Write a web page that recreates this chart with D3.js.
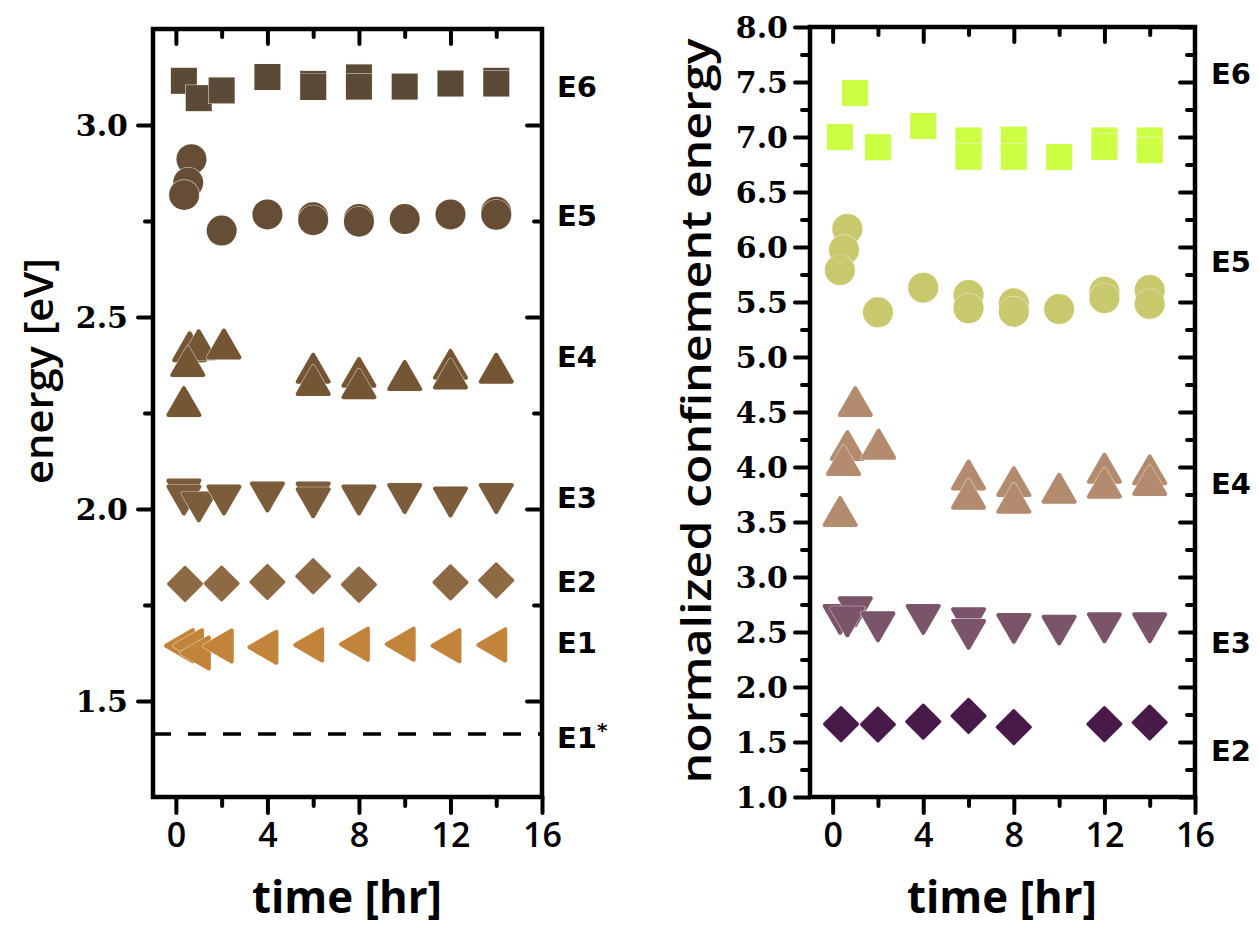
<!DOCTYPE html>
<html><head><meta charset="utf-8">
<script src="https://cdn.jsdelivr.net/npm/d3@7"></script>
<style>body{margin:0;background:#fff}svg{display:block}</style>
</head><body><svg id="c" width="1259" height="930"></svg>
<script>
// ---------------- data ----------------
const xMajorTicks = [0, 4, 8, 12, 16];
const xMinorTicks = [2, 6, 10, 14];
const leftYTicks = [1.5, 2.0, 2.5, 3.0];
const leftYMinor = [1.75, 2.25, 2.75];
const rightYTicks = [1.0,1.5,2.0,2.5,3.0,3.5,4.0,4.5,5.0,5.5,6.0,6.5,7.0,7.5,8.0];
const rightYMinor = [1.25,1.75,2.25,2.75,3.25,3.75,4.25,4.75,5.25,5.75,6.25,6.75,7.25,7.75];

// left panel: energy [eV]
const lE6t = [0.35,1.0,2.0,4,6,6,8,8,10,12,14,14];
const lE6v = [3.115,3.07,3.09,3.125,3.107,3.099,3.124,3.10,3.10,3.108,3.115,3.108];
const lE5t = [0.68,0.54,0.36,2,4,6,6,8,8,10,12,14,14];
const lE5v = [2.911,2.85,2.818,2.725,2.767,2.76,2.752,2.755,2.748,2.755,2.767,2.774,2.766];
const lE4t = [0.6,1.0,0.52,0.35,2.1,6,6,8,8,10,12,12,14];
const lE4v = [2.411,2.416,2.372,2.268,2.418,2.355,2.323,2.344,2.314,2.336,2.365,2.340,2.355];
const lE3t = [0.35,0.35,1.0,2.1,4,6,6,8,10,12,14];
const lE3v = [2.051,2.035,2.017,2.035,2.043,2.043,2.028,2.035,2.039,2.030,2.039];
const lE2t = [0.4,2,4,6,8,12,14];
const lE2v = [1.805,1.806,1.81,1.825,1.803,1.809,1.814];
const lE1t = [0.35,0.75,1.05,2.05,4,6,8,10,12,14];
const lE1v = [1.644,1.644,1.625,1.643,1.64,1.646,1.648,1.648,1.644,1.646];
const bulkE1 = 1.414;
const leftLabels = ["E6","E5","E4","E3","E2","E1","E1"];
const leftLabelPos = [3.10,2.763,2.396,2.029,1.81,1.651,1.406];

// right panel: normalized confinement energy
const rE6t = [0.32,0.99,2,4,6,6,8,8,10,12,12,14,14];
const rE6v = [7.0,7.40,6.907,7.1,6.968,6.82,6.975,6.82,6.818,6.968,6.91,6.968,6.88];
const rE5t = [0.65,0.5,0.32,2,4,6,6,8,8,10,12,12,14,14];
const rE5v = [6.164,5.973,5.79,5.406,5.63,5.564,5.443,5.488,5.412,5.436,5.594,5.534,5.609,5.482];
const rE4t = [1.0,0.65,0.48,2.03,0.33,6,6,8,8,10,12,12,14,14];
const rE4v = [4.554,4.154,4.017,4.166,3.554,3.887,3.712,3.826,3.675,3.766,3.948,3.812,3.933,3.835];
const rE3t = [0.33,1.0,0.65,2,4,6,6,8,10,12,14];
const rE3v = [2.655,2.725,2.634,2.588,2.655,2.625,2.519,2.573,2.558,2.579,2.579];
const rE2t = [0.37,2,4,6,8,12,14];
const rE2v = [1.662,1.659,1.685,1.738,1.635,1.662,1.677];
const rightLabels = ["E6","E5","E4","E3","E2"];
const rightLabelPos = [7.573,5.864,3.845,2.4,1.418];

// ---------------- drawing ----------------
const svg = d3.select("#c");
const edge = "#f6f1ec";

const shapes = {
  square: {d: "M-13,-13h26v26h-26z", sw: 0},
  circle: {d: d3.symbol(d3.symbolCircle, Math.PI*15*15)(), sw: 0},
  up: {d: "M0,-17.9L15.5,8.95L-15.5,8.95Z", sw: 4},
  down: {d: "M0,17.9L15.5,-8.95L-15.5,-8.95Z", sw: 4},
  left: {d: "M-17.9,0L8.95,-15.5L8.95,15.5Z", sw: 4},
  diamond: {d: "M0,-16.5L16.5,0L0,16.5L-16.5,0Z", sw: 3}
};

function drawSeries(g, xs, ys, ts, vs, shape, color) {
  const sh = shapes[shape];
  ts.forEach((t, i) => {
    const m = g.append("g").attr("transform", `translate(${xs(t)},${ys(vs[i])})`);
    m.append("path").attr("d", sh.d).attr("fill", edge).attr("stroke", edge)
      .attr("stroke-opacity", 0.7)
      .attr("stroke-width", sh.sw + 1.2).attr("stroke-linejoin", "round");
    m.append("path").attr("d", sh.d).attr("fill", color)
      .attr("stroke", sh.sw ? color : "none").attr("stroke-width", sh.sw)
      .attr("stroke-linejoin", "round");
  });
}

function styleTicks(sel) {
  sel.select(".domain").remove();
  sel.selectAll("line").attr("stroke", "#000").attr("stroke-width", 4).attr("stroke-linecap", "round");
}

function panel(x0, x1, y0, y1, yDomain, yMaj, yMin, yFmt, ylabPad) {
  const xs = d3.scaleLinear().domain([-1, 16]).range([x0, x1]);
  const ys = d3.scaleLinear().domain(yDomain).range([y1, y0]);
  const g = svg.append("g");
  const bx = g.append("g").attr("transform", `translate(0,${y1})`)
    .call(d3.axisBottom(xs).tickValues(xMajorTicks).tickSize(16).tickFormat(d3.format("d")));
  styleTicks(bx);
  bx.selectAll("text").attr("y", 50).attr("dy", 0)
    .attr("font-family", "'Open Sans', sans-serif").attr("font-weight", 600)
    .attr("font-size", 34).attr("fill", "#000");
  styleTicks(g.append("g").attr("transform", `translate(0,${y1})`)
    .call(d3.axisBottom(xs).tickValues(xMinorTicks).tickSize(9).tickFormat("")));
  styleTicks(g.append("g").attr("transform", `translate(0,${y0})`)
    .call(d3.axisBottom(xs).tickValues(xMajorTicks.slice(0, -1)).tickSize(15).tickFormat("")));
  styleTicks(g.append("g").attr("transform", `translate(0,${y0})`)
    .call(d3.axisBottom(xs).tickValues(xMinorTicks).tickSize(8).tickFormat("")));
  const ly = g.append("g").attr("transform", `translate(${x0},0)`)
    .call(d3.axisLeft(ys).tickValues(yMaj).tickSize(15).tickPadding(ylabPad).tickFormat(yFmt));
  styleTicks(ly);
  ly.selectAll("text").attr("dy", "0.36em")
    .attr("font-family", "'DejaVu Serif', serif").attr("font-weight", "bold")
    .attr("font-size", 30).attr("fill", "#000");
  styleTicks(g.append("g").attr("transform", `translate(${x0},0)`)
    .call(d3.axisLeft(ys).tickValues(yMin).tickSize(8).tickFormat("")));
  styleTicks(g.append("g").attr("transform", `translate(${x1},0)`)
    .call(d3.axisLeft(ys).tickValues(yMaj).tickSize(15).tickFormat("")));
  styleTicks(g.append("g").attr("transform", `translate(${x1},0)`)
    .call(d3.axisLeft(ys).tickValues(yMin).tickSize(8).tickFormat("")));
  g.append("rect").attr("x", x0).attr("y", y0).attr("width", x1 - x0).attr("height", y1 - y0)
    .attr("fill", "none").attr("stroke", "#000").attr("stroke-width", 4.5);
  return {g, xs, ys};
}

const fmt = d3.format(".1f");
const L = panel(153, 542, 29, 797, [1.25, 3.25], leftYTicks, leftYMinor, fmt, 10);
const R = panel(810, 1195, 27, 797, [1.0, 8.0], rightYTicks, rightYMinor, fmt, 7);

L.g.append("line").attr("x1", L.xs(-1)).attr("x2", L.xs(16))
  .attr("y1", L.ys(bulkE1)).attr("y2", L.ys(bulkE1))
  .attr("stroke", "#000").attr("stroke-width", 3.5).attr("stroke-dasharray", "18,17");

const LM = svg.append("g");
drawSeries(LM, L.xs, L.ys, lE6t, lE6v, "square", "#5c4a39");
drawSeries(LM, L.xs, L.ys, lE5t, lE5v, "circle", "#664e36");
drawSeries(LM, L.xs, L.ys, lE4t, lE4v, "up", "#745634");
drawSeries(LM, L.xs, L.ys, lE3t, lE3v, "down", "#7b5c3b");
drawSeries(LM, L.xs, L.ys, lE2t, lE2v, "diamond", "#8d6a43");
drawSeries(LM, L.xs, L.ys, lE1t, lE1v, "left", "#c2843a");

const RM = svg.append("g");
drawSeries(RM, R.xs, R.ys, rE6t, rE6v, "square", "#ccff44");
drawSeries(RM, R.xs, R.ys, rE5t, rE5v, "circle", "#c8c86c");
drawSeries(RM, R.xs, R.ys, rE4t, rE4v, "up", "#b38b6e");
drawSeries(RM, R.xs, R.ys, rE3t, rE3v, "down", "#7a5468");
drawSeries(RM, R.xs, R.ys, rE2t, rE2v, "diamond", "#471a4a");

const lblFont = "'DejaVu Sans', sans-serif";
leftLabels.forEach((s, i) => {
  const t = svg.append("text").attr("x", 557).attr("y", L.ys(leftLabelPos[i])).attr("dy", "0.36em")
    .attr("font-family", lblFont).attr("font-weight", "bold").attr("font-size", 29).text(s);
  if (i === leftLabels.length - 1) {
    t.append("tspan").attr("dy", "-0.55em").attr("font-size", 20).text("*");
  }
});
rightLabels.forEach((s, i) => {
  svg.append("text").attr("x", 1211).attr("y", R.ys(rightLabelPos[i])).attr("dy", "0.36em")
    .attr("font-family", lblFont).attr("font-weight", "bold").attr("font-size", 29).text(s);
});

const titleFont = "'Open Sans', sans-serif";
svg.append("text").attr("transform", "translate(53,371) rotate(-90)").attr("text-anchor", "middle")
  .attr("font-family", titleFont).attr("font-weight", 600).attr("font-size", 40)
  .attr("textLength", 226).attr("lengthAdjust", "spacingAndGlyphs").text("energy [eV]");
svg.append("text").attr("transform", "translate(711,411) rotate(-90)").attr("text-anchor", "middle")
  .attr("font-family", titleFont).attr("font-weight", 600).attr("font-size", 42)
  .attr("textLength", 745).attr("lengthAdjust", "spacingAndGlyphs").text("normalized confinement energy");
[347, 1002].forEach(cx => {
  svg.append("text").attr("x", cx).attr("y", 913).attr("text-anchor", "middle")
    .attr("font-family", "'Open Sans', sans-serif").attr("font-weight", 700).attr("font-size", 44)
    .attr("textLength", 190).attr("lengthAdjust", "spacingAndGlyphs").text("time [hr]");
});
</script></body></html>
